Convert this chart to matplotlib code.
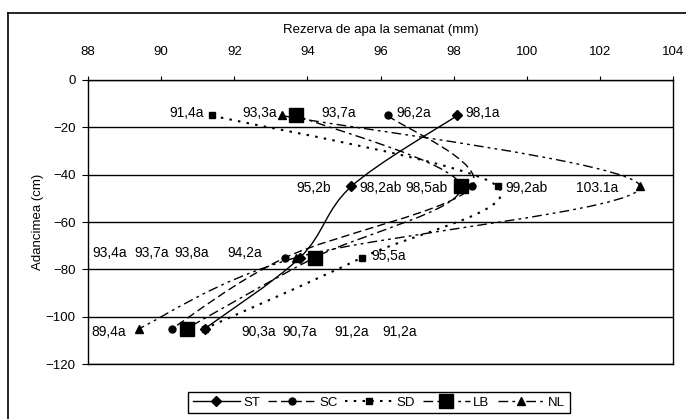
import matplotlib.pyplot as plt
from matplotlib.path import Path
from matplotlib.patches import PathPatch
from matplotlib.lines import Line2D

plt.rcParams['font.family'] = ['Liberation Sans', 'DejaVu Sans']

# depth (cm) and water reserve (mm) per variant
depth = [-15, -45, -75, -105]
st = [98.1, 95.2, 93.8, 91.2]
sc = [96.2, 98.5, 93.4, 90.3]
sd = [91.4, 99.2, 95.5, 91.2]
lb = [93.7, 98.2, 94.2, 90.7]
nl = [93.3, 103.1, 93.7, 89.4]

x_ticks = [88, 90, 92, 94, 96, 98, 100, 102, 104]
y_ticks = [0, -20, -40, -60, -80, -100, -120]

# value labels as written on the chart (text, x, y)
value_labels = [
    ("91,4a", 90.23, -14), ("93,3a", 92.22, -14), ("93,7a", 94.39, -14),
    ("96,2a", 96.44, -14), ("98,1a", 98.32, -14),
    ("95,2b", 93.69, -45.5), ("98,2ab", 95.43, -45.5), ("98,5ab", 96.69, -45.5),
    ("99,2ab", 99.42, -45.5), ("103.1a", 101.35, -45.5),
    ("93,4a", 88.13, -73), ("93,7a", 89.27, -73), ("93,8a", 90.36, -73),
    ("94,2a", 91.81, -73), ("95,5a", 95.76, -74.5),
    ("89,4a", 88.10, -106.5), ("90,3a", 92.19, -106.5), ("90,7a", 93.31, -106.5),
    ("91,2a", 94.73, -106.5), ("91,2a", 96.04, -106.5),
]


def smooth_path(xs, ys):
    # excel-like smoothed line through the points (bezier segments)
    pts = list(zip(xs, ys))
    n = len(pts)
    verts = [pts[0]]
    codes = [Path.MOVETO]
    for i in range(n - 1):
        p0 = pts[i - 1] if i > 0 else pts[i]
        p1 = pts[i]
        p2 = pts[i + 1]
        p3 = pts[i + 2] if i + 2 < n else pts[i + 1]
        c1 = (p1[0] + (p2[0] - p0[0]) / 6, p1[1] + (p2[1] - p0[1]) / 6)
        c2 = (p2[0] - (p3[0] - p1[0]) / 6, p2[1] - (p3[1] - p1[1]) / 6)
        verts += [c1, c2, p2]
        codes += [Path.CURVE4] * 3
    return Path(verts, codes)


fig = plt.figure(figsize=(6.86, 4.19), dpi=100)
ax = fig.add_axes([88 / 686, 55 / 419, 585 / 686, 284 / 419])

styles = [
    ("ST", st, "-", 1.0, "D", 5),
    ("SC", sc, (0, (6, 3)), 1.0, "o", 5),
    ("SD", sd, (0, (1.2, 3)), 1.5, "s", 4.5),
    ("LB", lb, (0, (7, 3, 2, 3)), 1.0, "s", 9.5),
    ("NL", nl, (0, (7, 3, 2, 3, 2, 3)), 1.0, "^", 6),
]

handles = []
for name, vals, ls, lw, mk, ms in styles:
    patch = PathPatch(smooth_path(vals, depth), facecolor="none", edgecolor="black",
                      linestyle=ls, linewidth=lw, zorder=3)
    ax.add_patch(patch)
    ax.plot(vals, depth, linestyle="none", marker=mk, markersize=ms,
            color="black", zorder=4)
    handles.append(Line2D([], [], color="black", linestyle=ls, linewidth=lw,
                          marker=mk, markersize=ms, label=name))

for txt, x, y in value_labels:
    ax.text(x, y, txt, ha="left", va="center", fontsize=10, zorder=5)

ax.set_xlim(88, 104)
ax.set_ylim(-120, 0)
ax.set_xticks(x_ticks)
ax.set_yticks(y_ticks)
ax.xaxis.tick_top()
ax.xaxis.set_label_position("top")
ax.set_xlabel("Rezerva de apa la semanat (mm)", fontsize=9.5, labelpad=9)
ax.set_ylabel("Adancimea (cm)", fontsize=9.5, labelpad=1)
ax.tick_params(axis="x", direction="out", length=3, pad=13, labelsize=9.5, color="black")
ax.tick_params(axis="y", direction="out", length=4, pad=5, labelsize=9.5, color="black")
ax.grid(axis="y", color="black", linewidth=1)
ax.set_axisbelow(True)
for sp in ax.spines.values():
    sp.set_color("black")
    sp.set_linewidth(1)

# outer chart frame (only top and left visible)
fig.add_artist(Line2D([8 / 686, 8 / 686], [0, 1 - 12.7 / 419], color="black", lw=1.2,
                      transform=fig.transFigure))
fig.add_artist(Line2D([8 / 686, 1], [1 - 12.7 / 419, 1 - 12.7 / 419], color="black", lw=1.2,
                      transform=fig.transFigure))

leg = fig.legend(handles=handles, loc="center", bbox_to_anchor=(379 / 686, 1 - 402.5 / 419),
                 ncol=5, fontsize=9.5, handlelength=3.6, handletextpad=0.25,
                 columnspacing=0.6, frameon=True, fancybox=False, framealpha=1,
                 edgecolor="black", borderpad=0.35)
leg.get_frame().set_linewidth(1)

fig.savefig("out.png", dpi=100)
